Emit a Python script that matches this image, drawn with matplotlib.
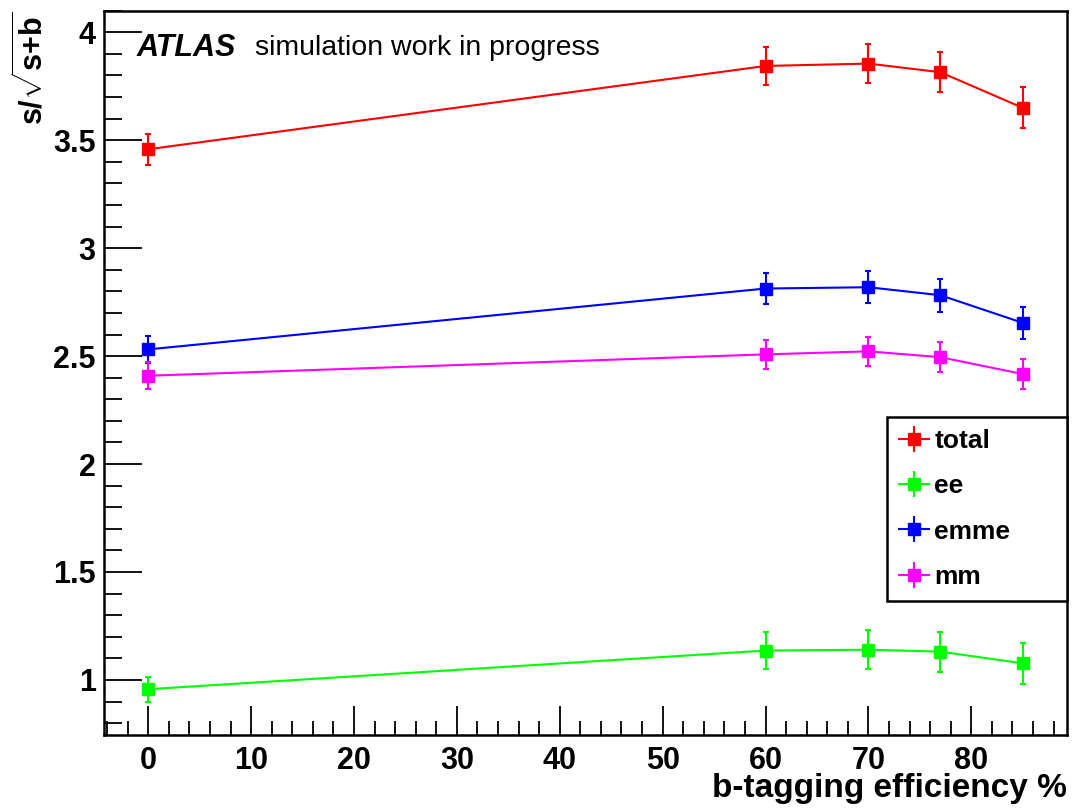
import matplotlib
matplotlib.use("Agg")
import matplotlib.pyplot as plt
from matplotlib.lines import Line2D
from matplotlib.legend_handler import HandlerTuple
from matplotlib.ticker import MultipleLocator, FormatStrFormatter

plt.rcParams['font.family'] = ['Liberation Sans', 'DejaVu Sans']
plt.rcParams['mathtext.fontset'] = 'custom'
plt.rcParams['mathtext.rm'] = 'Liberation Sans:style=normal:weight=bold'
plt.rcParams['mathtext.it'] = 'Liberation Sans:style=normal:weight=bold'
plt.rcParams['mathtext.bf'] = 'Liberation Sans:style=normal:weight=bold'
plt.rcParams['mathtext.default'] = 'bf'

# b-tagging working points (%)
eff = [0, 60, 70, 77, 85]

total = [3.458, 3.844, 3.855, 3.815, 3.650]
total_err = [0.071, 0.089, 0.090, 0.093, 0.095]

ee = [0.957, 1.136, 1.140, 1.131, 1.077]
ee_err = [0.057, 0.087, 0.090, 0.093, 0.094]

emme = [2.531, 2.813, 2.819, 2.782, 2.654]
emme_err = [0.0625, 0.073, 0.075, 0.076, 0.0755]

mm = [2.409, 2.508, 2.522, 2.495, 2.417]
mm_err = [0.062, 0.066, 0.067, 0.069, 0.069]

series = [
    ("total", total, total_err, "#ff0000"),
    ("ee", ee, ee_err, "#00ff00"),
    ("emme", emme, emme_err, "#0000ff"),
    ("mm", mm, mm_err, "#ff00ff"),
]

fig = plt.figure(figsize=(10.73, 8.09), dpi=100)
ax = fig.add_axes([0.0969, 0.0915, 0.8975, 0.8953])

handles, labels = [], []
for name, vals, errs, col in series:
    ax.errorbar(eff, vals, yerr=errs, color=col, marker='s', markersize=8,
                linewidth=1.5, elinewidth=1.5, capsize=2.5, capthick=1.5)
    # legend entry: marker with horizontal and vertical error-bar cross
    handles.append((
        Line2D([], [], color=col, lw=1.5),
        Line2D([], [], color=col, marker='|', markersize=19, mew=1.5, ls='none'),
        Line2D([], [], color=col, marker='s', markersize=8, ls='none'),
    ))
    labels.append(name)

ax.set_xlim(-4.3, 89.3)
ax.set_ylim(0.745, 4.10)

ax.xaxis.set_major_locator(MultipleLocator(10))
ax.xaxis.set_minor_locator(MultipleLocator(2))
ax.yaxis.set_major_locator(MultipleLocator(0.5))
ax.yaxis.set_minor_locator(MultipleLocator(0.1))
ax.yaxis.set_major_formatter(FormatStrFormatter('%g'))

ax.tick_params(axis='both', which='both', direction='in', top=False, right=False,
               width=1.3, colors='black')
ax.tick_params(axis='x', which='major', length=21, labelsize=22, pad=8)
ax.tick_params(axis='x', which='minor', length=10)
ax.tick_params(axis='y', which='major', length=27, labelsize=22, pad=6)
ax.tick_params(axis='y', which='minor', length=13)
for lab in ax.get_xticklabels() + ax.get_yticklabels():
    lab.set_fontweight('bold')

for sp in ax.spines.values():
    sp.set_linewidth(1.8)

ax.set_xlabel("b-tagging efficiency %", fontsize=24, fontweight='bold')
ax.xaxis.set_label_coords(1.0, -0.053)
ax.xaxis.label.set_horizontalalignment('right')
ax.xaxis.label.set_verticalalignment('top')

ax.set_ylabel(r"$\mathbf{s/\sqrt{s{+}b}}$", fontsize=22)
ax.yaxis.set_label_coords(-0.057, 1.0)
ax.yaxis.label.set_horizontalalignment('right')
ax.yaxis.label.set_verticalalignment('bottom')

ax.text(0.034, 0.948, "ATLAS", transform=ax.transAxes, fontsize=22,
        fontweight='bold', fontstyle='italic', va='center', ha='left')
ax.text(0.157, 0.948, "simulation work in progress", transform=ax.transAxes,
        fontsize=20.5, va='center', ha='left')

leg = ax.legend(handles, labels, handler_map={tuple: HandlerTuple(ndivide=1)},
                loc='upper left', bbox_to_anchor=(0.813, 0.188, 0.187, 0.251),
                mode='expand', frameon=True,
                fancybox=False, edgecolor='black', framealpha=1,
                prop={'weight': 'bold', 'size': 19}, handlelength=1.15,
                handletextpad=0.2, labelspacing=0.81, borderpad=0.45,
                borderaxespad=0)
leg.get_frame().set_linewidth(1.8)

fig.savefig("out.png", dpi=100)
